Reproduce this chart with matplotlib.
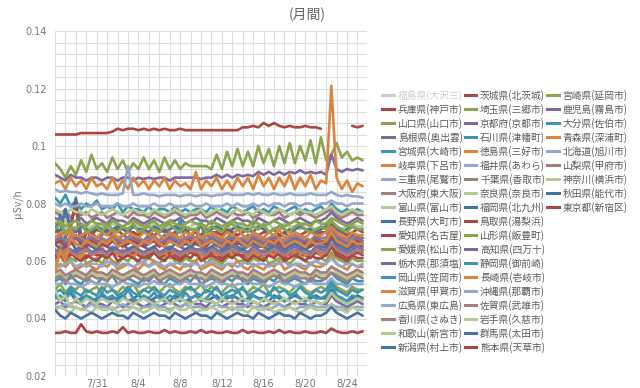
import matplotlib
matplotlib.use('Agg')
import matplotlib.pyplot as plt
import matplotlib.dates as mdates
from matplotlib.lines import Line2D
from matplotlib.ticker import MultipleLocator, FixedLocator
import numpy as np
import datetime as dt

plt.rcParams['font.family'] = ['Noto Sans CJK JP', 'DejaVu Sans']

nan = float('nan')
start = dt.datetime(2012, 7, 27)
step = dt.timedelta(hours=12)
tick_dates = [dt.datetime(2012, 7, 31), dt.datetime(2012, 8, 4), dt.datetime(2012, 8, 8),
              dt.datetime(2012, 8, 12), dt.datetime(2012, 8, 16), dt.datetime(2012, 8, 20),
              dt.datetime(2012, 8, 24)]
tick_labels = ['7/31', '8/4', '8/8', '8/12', '8/16', '8/20', '8/24']
y_ticks = [0.02, 0.04, 0.06, 0.08, 0.1, 0.12, 0.14]
y_tick_labels = ['0.02', '0.04', '0.06', '0.08', '0.1', '0.12', '0.14']

# values in 1/1000 μSv/h, every 12 hours from 7/27
hyogo = [62, 63, 61, 62, 64, 62, 61, 63, 62, 62, 61, 63, 62, 61, 62, 63, 62, 61, 62, 63, 61, 62, 63, 62, 61, 62, 63, 62, 62, 61, 63, 62, 61, 62, 63, 62, 62, 61, 63, 62, 61, 62, 63, 62, 61, 62, 63, 62, 62, 61, 63, 62, 62, 65, 63, 62, 61, 62, 63, 62]
yamaguchi = [94, 92, 89, 93, 90, 95, 91, 97, 92, 94, 91, 96, 92, 95, 91, 94, 92, 96, 92, 95, 91, 96, 92, 95, 92, 94, 93, 93, 93, 93, 92, 97, 92, 98, 93, 99, 93, 98, 93, 100, 94, 99, 93, 100, 94, 101, 94, 100, 95, 102, 94, 103, 95, 97, 101, 96, 98, 95, 96, 95]
shimane = [90, 89, 88, 90, 89, 89, 88, 89, 89, 88, 89, 89, 88, 89, 89, 88, 89, 88.5, 89, 88.5, 89, 89, 88, 89, 89, 89, 89, 89, 88.5, 89, 89, 90, 89, 90, 89, 90, 89.5, 90, 89.5, 91, 90, 91, 90, 91, 90, 91, 90.5, 91.5, 90.5, 91, 90.5, 91, 90, 97, 92, 91, 92, 91.5, 92, 91.5]
miyagi = [82, 80, 83, 79, 81, 78, 80, 79, 81, 78, 79, 78, 80, 77, 79, 78, 78, 77, 79, 77, 78, 78, 77, 79, 77, 78, 77, 78, 78, 77, 79, 77, 78, 77, 79, 78, 77, 78, 79, 77, 78, 77, 79, 78, 77, 78, 79, 77, 78, 77, 78, 79, 77, 80, 78, 77, 78, 77, 78, 77]
gifu = [87, 88, 85, 89, 86, 88, 85, 89, 86, 87, 85, 89, 85, 88, 85, 89, 86, 88, 85, 88, 86, 89, 85, 88, 86, 87, 85, 91, 85, 88, 86, 89, 85, 88, 85, 89, 86, 89, 85, 90, 86, 89, 85, 89, 86, 90, 85, 89, 86, 90, 85, 88, 87, 121, 89, 85, 88, 84, 87, 86]
mie = [85, 84, 84.5, 84, 84, 83.5, 84, 83.5, 83, 83.5, 83, 83, 83, 83.5, 93, 83, 83, 83.5, 83, 83, 82.5, 83, 83, 83, 82.5, 83, 83, 82.5, 83, 83, 82.5, 83, 83, 83.5, 83, 83, 83, 83.5, 83, 83.5, 83, 83, 83.5, 83, 83, 83.5, 83, 83, 83, 83.5, 83, 83, 83, 84, 83, 82.5, 83, 82.5, 82.5, 82]
osaka = [77, 76, 78, 75, 77, 76, 77, 75, 76, 77, 75, 76, 77, 76, 75, 77, 76, 76, 75, 77, 76, 75, 76, 77, 76, 75, 76, 76, 77, 75, 76, 77, 76, 75, 77, 76, 76, 77, 75, 76, 77, 76, 76, 77, 75, 76, 77, 76, 77, 76, 75, 76, 77, 78, 76, 75, 76, 77, 76, 76]
toyama = [73, 72, 74, 71, 72, 73, 71, 72, 73, 72, 71, 73, 72, 72, 71, 73, 72, 71, 72, 73, 72, 71, 72, 72, 73, 71, 72, 73, 72, 71, 72, 73, 72, 72, 71, 73, 72, 71, 73, 72, 72, 73, 71, 72, 73, 72, 72, 71, 73, 72, 71, 72, 73, 74, 72, 71, 72, 73, 72, 72]
nagano = [70, 76, 68, 72, 82, 69, 67, 70, 68, 69, 71, 68, 67, 69, 68, 70, 68, 67, 69, 68, 67, 69, 68, 70, 67, 68, 69, 68, 67, 69, 68, 69, 67, 68, 70, 68, 67, 69, 68, 69, 68, 67, 69, 68, 70, 68, 67, 69, 68, 67, 69, 68, 68, 72, 69, 68, 67, 69, 68, 68]
aichi = [71, 69, 70, 72, 80, 64, 70, 69, 71, 70, 69, 70, 71, 69, 70, 70, 69, 71, 70, 69, 70, 71, 69, 70, 70, 71, 69, 70, 69, 71, 70, 70, 69, 71, 70, 69, 70, 71, 70, 69, 70, 70, 71, 69, 70, 71, 70, 69, 70, 71, 69, 70, 70, 73, 71, 70, 69, 70, 71, 70]
ehime = [60, 62, 59, 61, 60, 63, 59, 60, 61, 59, 62, 60, 59, 61, 60, 62, 59, 60, 61, 60, 59, 61, 62, 60, 59, 61, 60, 60, 62, 59, 61, 60, 59, 61, 62, 60, 60, 59, 61, 60, 62, 59, 60, 61, 60, 59, 61, 62, 60, 59, 60, 61, 60, 63, 61, 60, 59, 61, 60, 60]
tochigi = [75, 74, 76, 73, 74, 75, 73, 74, 75, 74, 73, 75, 74, 74, 73, 75, 74, 73, 74, 75, 74, 73, 74, 74, 75, 73, 74, 75, 74, 74, 73, 75, 74, 73, 74, 75, 74, 74, 73, 75, 74, 73, 74, 75, 74, 73, 74, 75, 74, 73, 74, 74, 75, 77, 75, 74, 73, 74, 75, 74]
okayama = [66, 67, 65, 68, 66, 65, 67, 66, 65, 68, 66, 67, 65, 66, 68, 66, 65, 67, 66, 68, 66, 65, 67, 66, 75, 66, 65, 67, 74, 66, 67, 65, 66, 68, 66, 67, 65, 66, 67, 66, 68, 65, 66, 67, 66, 65, 67, 68, 66, 65, 67, 66, 66, 70, 67, 66, 65, 67, 66, 66]
shiga = [58, 66, 62, 70, 63, 61, 64, 62, 63, 65, 61, 63, 62, 64, 63, 61, 64, 62, 63, 65, 62, 63, 61, 64, 63, 62, 64, 63, 61, 63, 64, 62, 63, 65, 62, 63, 64, 61, 63, 62, 64, 63, 62, 64, 63, 61, 63, 64, 62, 63, 64, 62, 63, 68, 64, 63, 62, 63, 64, 63]
hiroshima = [80, 79, 80, 79, 79, 80, 79, 79, 80, 79, 79, 79, 80, 79, 79, 80, 79, 79, 79, 80, 79, 79, 80, 79, 79, 79, 80, 79, 79, 80, 79, 79, 79, 80, 79, 80, 79, 79, 80, 79, 80, 79, 80, 80, 79, 80, 80, 79, 80, 80, 79, 80, 80, 81, 80, 80, 79, 80, 80, 80]
kagawa = [68, 69, 67, 68, 69, 68, 67, 69, 68, 68, 67, 69, 68, 67, 68, 69, 68, 67, 68, 69, 67, 68, 69, 68, 67, 68, 69, 68, 68, 67, 69, 68, 67, 68, 69, 68, 68, 67, 69, 68, 67, 68, 69, 68, 67, 68, 69, 68, 68, 67, 69, 68, 68, 71, 69, 68, 67, 68, 69, 68]
wakayama = [55, 56, 54, 55, 56, 55, 54, 56, 55, 55, 54, 56, 55, 54, 55, 56, 55, 54, 55, 56, 54, 55, 56, 55, 54, 55, 56, 55, 55, 54, 56, 55, 54, 55, 56, 55, 55, 54, 56, 55, 54, 55, 56, 55, 54, 55, 56, 55, 55, 54, 56, 55, 55, 58, 56, 55, 54, 55, 56, 55]
niigata = [48, 46, 47, 49, 46, 47, 48, 46, 47, 48, 46, 47, 47, 48, 46, 47, 48, 47, 46, 47, 48, 47, 46, 48, 47, 46, 47, 48, 47, 46, 47, 48, 46, 47, 48, 47, 46, 47, 48, 47, 47, 46, 48, 47, 46, 47, 48, 47, 46, 47, 48, 47, 47, 50, 48, 47, 46, 47, 48, 47]
ibaraki = [104, 104, 104, 104, 104, 104.5, 104.5, 104.5, 104.5, 104.5, 104.5, 105, 106, 105.5, 106, 106, 105.5, 106, 105.5, 106, 105.5, 106, 105.5, 105.5, 106, 105.5, 105.5, 105.5, 105.5, 105.5, 105.5, 105.5, 105.5, 105.5, 105.5, 105.5, 106.5, 106.5, 107, 106.5, 108, 107, 108, 107, 106.5, 107, 106.5, 106.5, 107, 106.5, 106.5, 106, nan, nan, nan, nan, nan, 107, 106.5, 107]
saitama = [50, 52, 49, 51, 50, 52, 49, 50, 51, 49, 52, 50, 49, 51, 50, 52, 49, 50, 51, 50, 49, 51, 52, 50, 49, 51, 50, 50, 52, 49, 51, 50, 49, 51, 52, 50, 50, 49, 51, 50, 52, 49, 50, 51, 50, 49, 51, 52, 50, 49, 50, 51, 50, 53, 51, 50, 49, 51, 50, 50]
kyoto = [64, 63, 65, 64, 63, 64, 65, 63, 64, 64, 63, 65, 64, 63, 64, 65, 64, 63, 64, 65, 63, 64, 65, 64, 63, 64, 65, 64, 64, 63, 65, 64, 63, 64, 65, 64, 64, 63, 65, 64, 63, 64, 65, 64, 63, 64, 65, 64, 64, 63, 65, 64, 64, 68, 65, 64, 63, 64, 65, 64]
ishikawa = [49, 50, 48, 51, 49, 48, 50, 49, 48, 51, 49, 50, 48, 49, 51, 49, 48, 50, 49, 51, 49, 48, 50, 49, 48, 50, 51, 49, 48, 50, 49, 51, 48, 49, 50, 49, 51, 48, 49, 50, 49, 48, 51, 49, 50, 48, 49, 51, 49, 48, 50, 49, 50, 53, 50, 49, 48, 50, 49, 50]
tokushima = [57, 59, 58, 60, 57, 58, 59, 58, 57, 59, 58, 60, 57, 58, 59, 58, 57, 59, 58, 60, 58, 57, 59, 58, 57, 59, 58, 60, 57, 58, 59, 58, 57, 59, 58, 60, 58, 57, 59, 58, 57, 59, 58, 60, 57, 58, 59, 58, 57, 59, 58, 58, 59, 62, 59, 58, 57, 59, 58, 58]
fukui = [59, 58, 59, 60, 58, 59, 58, 59, 59, 58, 60, 59, 58, 59, 59, 58, 59, 60, 58, 59, 59, 58, 59, 59, 60, 58, 59, 59, 58, 59, 60, 59, 58, 59, 59, 58, 59, 60, 58, 59, 59, 58, 59, 59, 60, 58, 59, 59, 58, 59, 60, 59, 59, 61, 59, 58, 59, 59, 58, 59]
chiba = [56, 57, 55, 56, 57, 56, 55, 57, 56, 56, 55, 57, 56, 55, 56, 57, 56, 55, 56, 57, 55, 56, 57, 56, 55, 56, 57, 56, 56, 55, 57, 56, 55, 56, 57, 56, 56, 55, 57, 56, 55, 56, 57, 56, 55, 56, 57, 56, 56, 55, 57, 56, 56, 58, 57, 56, 55, 56, 57, 56]
nara = [78, 77, 76, 78, 77, 77, 76, 78, 77, 76, 77, 78, 77, 76, 77, 78, 77, 77, 76, 78, 77, 76, 77, 78, 77, 76, 77, 77, 78, 76, 77, 78, 77, 76, 77, 78, 77, 77, 76, 78, 77, 76, 77, 78, 77, 76, 77, 78, 77, 77, 76, 77, 78, 79, 77, 76, 77, 78, 77, 77]
fukuoka = [72, 70, 78, 71, 70, 72, 71, 70, 72, 71, 70, 71, 72, 71, 70, 72, 71, 71, 70, 72, 71, 70, 71, 72, 71, 70, 71, 71, 72, 70, 71, 72, 71, 70, 71, 72, 71, 71, 70, 72, 71, 70, 71, 72, 71, 70, 71, 72, 71, 71, 70, 71, 72, 74, 71, 70, 71, 72, 71, 71]
tottori = [61, 62, 60, 63, 61, 60, 62, 61, 60, 62, 61, 63, 60, 61, 62, 61, 60, 62, 61, 63, 61, 60, 62, 61, 60, 62, 61, 63, 60, 61, 62, 61, 60, 62, 61, 63, 61, 60, 62, 61, 60, 62, 61, 63, 60, 61, 62, 61, 60, 62, 61, 61, 62, 65, 62, 61, 60, 62, 61, 61]
yamagata = [73, 74, 72, 73, 74, 73, 72, 74, 73, 73, 72, 74, 73, 72, 73, 74, 73, 72, 73, 74, 72, 73, 74, 73, 72, 73, 74, 73, 73, 72, 74, 73, 72, 73, 74, 73, 73, 72, 74, 73, 72, 73, 74, 73, 72, 73, 74, 73, 73, 72, 74, 73, 73, 75, 74, 73, 72, 73, 74, 73]
kochi = [45, 46, 44, 45, 46, 45, 44, 46, 45, 45, 44, 46, 45, 44, 45, 46, 45, 44, 45, 46, 44, 45, 46, 45, 44, 45, 46, 45, 45, 44, 46, 45, 44, 45, 46, 45, 45, 44, 46, 45, 44, 45, 46, 45, 44, 45, 46, 45, 45, 44, 46, 45, 45, 48, 46, 45, 44, 45, 46, 45]
shizuoka = [47, 48, 46, 50, 47, 46, 48, 47, 46, 49, 47, 48, 46, 47, 50, 47, 46, 48, 47, 49, 47, 46, 48, 47, 46, 49, 47, 48, 46, 47, 49, 47, 46, 48, 47, 50, 47, 46, 48, 47, 46, 49, 47, 48, 46, 47, 49, 47, 46, 48, 47, 47, 48, 52, 48, 47, 46, 48, 47, 47]
nagasaki = [68, 70, 69, 71, 68, 69, 70, 69, 68, 70, 69, 71, 68, 69, 70, 69, 68, 70, 69, 71, 69, 68, 70, 69, 68, 70, 69, 71, 68, 69, 70, 69, 68, 70, 69, 71, 69, 68, 70, 69, 68, 70, 69, 71, 68, 69, 70, 69, 68, 70, 69, 69, 70, 72, 70, 69, 68, 70, 69, 69]
okinawa = [44, 44, 45, 44, 44, 43, 44, 45, 44, 44, 44, 43, 44, 45, 44, 44, 43, 44, 44, 45, 44, 44, 43, 44, 44, 45, 44, 44, 44, 43, 44, 45, 44, 44, 43, 44, 44, 45, 44, 44, 44, 43, 44, 45, 44, 44, 43, 44, 44, 45, 44, 44, 44, 45, 44, 44, 43, 44, 44, 44]
saga = [63, 62, 64, 63, 62, 63, 64, 62, 63, 63, 62, 64, 63, 62, 63, 64, 63, 62, 63, 64, 62, 63, 64, 63, 62, 63, 64, 63, 63, 62, 64, 63, 62, 63, 64, 63, 63, 62, 64, 63, 62, 63, 64, 63, 62, 63, 64, 63, 63, 62, 64, 63, 63, 66, 64, 63, 62, 63, 64, 63]
iwate = [43, 44, 43, 42, 44, 43, 43, 42, 44, 43, 43, 44, 42, 43, 43, 44, 43, 42, 43, 44, 43, 43, 42, 44, 43, 43, 44, 42, 43, 43, 44, 43, 42, 43, 44, 43, 43, 42, 44, 43, 43, 44, 42, 43, 43, 44, 43, 42, 43, 44, 43, 43, 43, 45, 43, 43, 42, 44, 43, 43]
gunma = [66, 64, 65, 67, 64, 65, 66, 65, 64, 66, 65, 64, 65, 66, 64, 65, 66, 65, 64, 65, 66, 65, 64, 66, 65, 64, 65, 66, 65, 64, 65, 66, 64, 65, 66, 65, 64, 65, 66, 65, 65, 64, 66, 65, 64, 65, 66, 65, 64, 65, 66, 65, 65, 68, 66, 65, 64, 65, 66, 65]
kumamoto = [66, 67, 65, 66, 68, 66, 65, 67, 66, 66, 65, 67, 66, 65, 66, 67, 66, 65, 66, 67, 65, 66, 67, 66, 65, 66, 67, 66, 66, 65, 67, 66, 65, 66, 67, 66, 66, 65, 67, 66, 65, 66, 67, 66, 65, 66, 67, 66, 66, 65, 67, 66, 66, 69, 67, 66, 65, 66, 67, 66]
miyazaki = [71, 73, 70, 72, 71, 73, 70, 71, 72, 70, 73, 71, 70, 72, 71, 73, 70, 71, 72, 71, 70, 72, 73, 71, 70, 72, 71, 71, 73, 70, 72, 71, 70, 72, 73, 71, 71, 70, 72, 71, 73, 70, 71, 72, 71, 70, 72, 73, 71, 70, 71, 72, 71, 74, 72, 71, 70, 72, 71, 71]
kagoshima = [67, 68, 66, 67, 68, 67, 66, 68, 67, 67, 66, 68, 67, 66, 67, 68, 67, 66, 67, 68, 66, 67, 68, 67, 66, 67, 68, 67, 67, 66, 68, 67, 66, 67, 68, 67, 67, 66, 68, 67, 66, 67, 68, 67, 66, 67, 68, 67, 67, 66, 68, 67, 67, 70, 68, 67, 66, 67, 68, 67]
oita = [53, 54, 52, 55, 53, 52, 54, 53, 52, 54, 53, 55, 52, 53, 54, 53, 52, 54, 53, 55, 53, 52, 54, 53, 52, 54, 53, 55, 52, 53, 54, 53, 52, 54, 53, 55, 53, 52, 54, 53, 52, 54, 53, 55, 52, 53, 54, 53, 52, 54, 53, 53, 54, 56, 54, 53, 52, 54, 53, 53]
aomori = [56, 64, 60, 68, 66, 65, 67, 66, 65, 67, 66, 68, 65, 66, 67, 66, 65, 67, 66, 68, 66, 65, 67, 66, 65, 67, 66, 68, 65, 66, 67, 66, 65, 67, 66, 68, 66, 65, 67, 66, 65, 67, 66, 68, 65, 66, 67, 66, 65, 67, 66, 66, 67, 70, 67, 66, 65, 67, 66, 66]
hokkaido = [52, 52, 53, 52, 52, 51, 52, 53, 52, 52, 52, 51, 52, 53, 52, 52, 51, 52, 52, 53, 52, 52, 51, 52, 52, 53, 52, 52, 52, 51, 52, 53, 52, 52, 51, 52, 52, 53, 52, 52, 52, 51, 52, 53, 52, 52, 51, 52, 52, 53, 52, 52, 52, 54, 52, 52, 51, 52, 52, 52]
yamanashi = [54, 55, 53, 54, 55, 54, 53, 55, 54, 54, 53, 55, 54, 53, 54, 55, 54, 53, 54, 55, 53, 54, 55, 54, 53, 54, 55, 54, 54, 53, 55, 54, 53, 54, 55, 54, 54, 53, 55, 54, 53, 54, 55, 54, 53, 54, 55, 54, 54, 53, 55, 54, 54, 56, 55, 54, 53, 54, 55, 54]
kanagawa = [50, 46, 48, 44, 47, 45, 47, 46, 45, 47, 46, 46, 45, 47, 46, 45, 46, 47, 46, 45, 46, 47, 45, 46, 47, 46, 45, 46, 47, 46, 46, 45, 47, 46, 45, 46, 47, 46, 46, 45, 47, 46, 45, 46, 47, 46, 45, 46, 47, 46, 46, 45, 46, 49, 47, 46, 45, 46, 47, 46]
akita = [43, 41, 40, 42, 41, 40, 41, 42, 41, 40, 41, 42, 41, 41, 40, 42, 41, 40, 41, 42, 41, 41, 40, 42, 41, 40, 41, 42, 41, 41, 40, 42, 41, 40, 41, 42, 41, 41, 40, 42, 41, 40, 41, 42, 41, 41, 40, 42, 41, 40, 41, 41, 42, 44, 42, 41, 40, 41, 42, 41]
tokyo = [35, 35, 35.5, 35, 35, 38, 35.5, 35, 35.5, 35, 35, 35.5, 35, 37, 35, 35.5, 35, 35, 35.5, 35, 35, 36, 35, 35.5, 35, 35, 35.5, 35, 36, 35, 35.5, 35, 35, 35.5, 35, 35, 36, 35, 35.5, 35, 35, 35.5, 35, 36, 35, 35.5, 35, 35, 35.5, 35, 35, 35.5, 35, 36.5, 35.5, 35, 35, 35.5, 35, 35.5]

names = ['福島県(大沢三)', '兵庫県(神戸市)', '山口県(山口市)', '島根県(奥出雲)', '宮城県(大崎市)', '岐阜県(下呂市)',
         '三重県(尾鷲市)', '大阪府(東大阪)', '富山県(富山市)', '長野県(大町市)', '愛知県(名古屋)', '愛媛県(松山市)',
         '栃木県(那須塩)', '岡山県(笠岡市)', '滋賀県(甲賀市)', '広島県(東広島)', '香川県(さぬき)', '和歌山(新宮市)',
         '新潟県(村上市)', '茨城県(北茨城)', '埼玉県(三郷市)', '京都府(京都市)', '石川県(津幡町)', '徳島県(三好市)',
         '福井県(あわら)', '千葉県(香取市)', '奈良県(奈良市)', '福岡県(北九州)', '鳥取県(湯梨浜)', '山形県(飯豊町)',
         '高知県(四万十)', '静岡県(御前崎)', '長崎県(壱岐市)', '沖縄県(那覇市)', '佐賀県(武雄市)', '岩手県(久慈市)',
         '群馬県(太田市)', '熊本県(天草市)', '宮崎県(延岡市)', '鹿児島(霧島市)', '大分県(佐伯市)', '青森県(深浦町)',
         '北海道(旭川市)', '山梨県(甲府市)', '神奈川(横浜市)', '秋田県(能代市)', '東京都(新宿区)']
values = [None, hyogo, yamaguchi, shimane, miyagi, gifu, mie, osaka, toyama, nagano, aichi, ehime,
          tochigi, okayama, shiga, hiroshima, kagawa, wakayama, niigata, ibaraki, saitama, kyoto, ishikawa,
          tokushima, fukui, chiba, nara, fukuoka, tottori, yamagata, kochi, shizuoka, nagasaki, okinawa,
          saga, iwate, gunma, kumamoto, miyazaki, kagoshima, oita, aomori, hokkaido, yamanashi, kanagawa,
          akita, tokyo]
palette = ['#4572A7', '#AA4643', '#89A54E', '#80699B', '#3D96AE', '#DB843D', '#92A8CD', '#A47D7C', '#B5CA92']

fig = plt.figure(figsize=(6.4, 3.88), dpi=100)
ax = fig.add_axes([55 / 640, 12 / 388, 312 / 640, 345 / 388])

handles = []
for i, (name, vals) in enumerate(zip(names, values)):
    color = palette[i % len(palette)]
    if vals is None:
        handles.append(Line2D([], [], color='#CCCCCC', lw=2.2, label=name))
        continue
    times = [start + step * k for k in range(len(vals))]
    ax.plot(times, np.array(vals, dtype=float) / 1000.0, color=color, lw=1.9,
            solid_joinstyle='round', solid_capstyle='round', label=name)
    handles.append(Line2D([], [], color=color, lw=2.2, label=name))

ax.set_ylim(0.02, 0.14)
ax.set_xlim(start, dt.datetime(2012, 8, 25, 22))
ax.yaxis.set_major_locator(FixedLocator(y_ticks))
ax.set_yticklabels(y_tick_labels)
ax.yaxis.set_minor_locator(MultipleLocator(0.004))
ax.xaxis.set_major_locator(FixedLocator(mdates.date2num(tick_dates)))
ax.set_xticklabels(tick_labels)
ax.xaxis.set_minor_locator(mdates.DayLocator())
ax.grid(which='both', color='#dddddd', lw=0.8)
ax.set_axisbelow(True)
for s in ax.spines.values():
    s.set_visible(False)
ax.tick_params(which='both', length=0)
ax.tick_params(axis='y', pad=6, labelsize=7, labelcolor='#777777')
ax.tick_params(axis='x', pad=2, labelsize=7, labelcolor='#777777')
for lab in ax.get_xticklabels() + ax.get_yticklabels():
    lab.set_family('DejaVu Sans')

fig.text(18 / 640, 1 - 204 / 388, 'μSv/h', rotation=90, ha='center', va='center',
         fontsize=7.5, color='#777777')
fig.text(307 / 640, 1 - 15 / 388, '(月間)', ha='center', va='center', fontsize=10, color='#666666')

blank = Line2D([], [], color='none', label=' ')
leg_handles = handles + [blank] * 10
leg = fig.legend(handles=leg_handles, labels=[h.get_label() for h in leg_handles], ncol=3,
                 loc='upper left', bbox_to_anchor=(382 / 640, 1 - 90 / 388), frameon=False,
                 fontsize=7, handlelength=1.2, handletextpad=0.4, columnspacing=0.2,
                 labelspacing=0.315, borderpad=0, borderaxespad=0)
for txt in leg.get_texts():
    txt.set_color('#5a5a5a')
leg.get_texts()[0].set_color('#CCCCCC')

fig.savefig('out.png', dpi=100)
